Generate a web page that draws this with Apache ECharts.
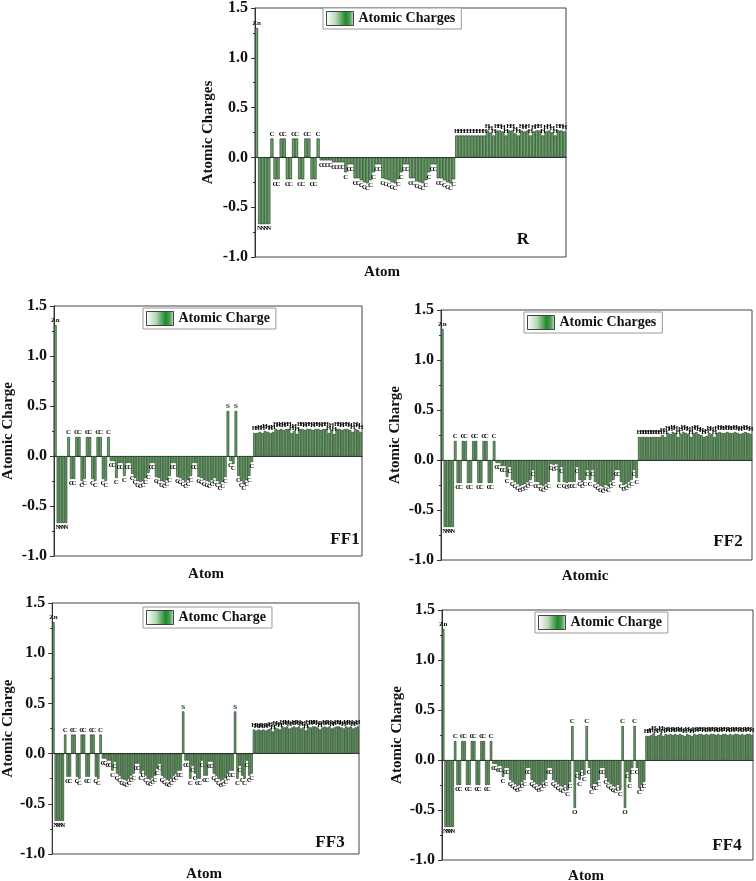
<!DOCTYPE html>
<html>
<head>
<meta charset="utf-8">
<script src="https://cdn.jsdelivr.net/npm/echarts@6/dist/echarts.min.js"></script>
<style>
  html, body { margin: 0; padding: 0; background: #fff; }
  #main { width: 756px; height: 881px; }
</style>
</head>
<body>
<div id="main"></div>
<script>
// ---- data ----
var valuesR = [
  1.30,
  -0.67, -0.67, -0.67, -0.67,
  0.19, -0.22, -0.22, 0.19, 0.19, -0.22, -0.22, 0.19, 0.19, -0.22, -0.22, 0.19, 0.19, -0.22, -0.22, 0.19,
  -0.03, -0.03, -0.03, -0.03, -0.05, -0.05, -0.05, -0.05,
  -0.15, -0.07, -0.07, -0.21, -0.21, -0.23, -0.25, -0.26, -0.23,
  -0.15, -0.07, -0.07, -0.21, -0.22, -0.23, -0.25, -0.26, -0.22,
  -0.15, -0.07, -0.07, -0.21, -0.21, -0.24, -0.25, -0.26, -0.23,
  -0.15, -0.07, -0.07, -0.21, -0.21, -0.23, -0.25, -0.26, -0.22,
  0.22, 0.22, 0.22, 0.22, 0.22, 0.22, 0.22, 0.22, 0.22, 0.22,
  0.27, 0.25, 0.22, 0.27, 0.27, 0.26, 0.22, 0.27, 0.27, 0.24,
  0.22, 0.27, 0.26, 0.27, 0.22, 0.26, 0.27, 0.27, 0.22, 0.26,
  0.27, 0.25, 0.22, 0.27, 0.27, 0.26
];
var atomsR = [['Zn', 1], ['N', 4], ['C', 60], ['H', 36]];

var valuesFF1 = [
  1.31,
  -0.67, -0.67, -0.67, -0.67,
  0.19, -0.23, -0.23, 0.19, 0.19, -0.25, -0.23, 0.19, 0.19, -0.23, -0.25, 0.19, 0.19, -0.23, -0.25, 0.19,
  -0.05, -0.05, -0.22, -0.07, -0.07, -0.20, -0.07, -0.07,
  -0.18, -0.22, -0.25, -0.26, -0.25, -0.22, -0.17,
  -0.07, -0.07,
  -0.21, -0.22, -0.25, -0.26, -0.24, -0.20,
  -0.07, -0.07,
  -0.21, -0.22, -0.24, -0.26, -0.24, -0.20,
  -0.07, -0.07,
  -0.21, -0.22, -0.24, -0.25, -0.26, -0.24, -0.22, -0.25, -0.28, -0.26, -0.21,
  0.45, -0.05, -0.08, 0.45,
  -0.20, -0.25, -0.28, -0.24, -0.20, -0.06,
  0.23, 0.23, 0.24, 0.23, 0.25, 0.24, 0.23, 0.24, 0.27, 0.26,
  0.27, 0.26, 0.27, 0.27, 0.23, 0.25, 0.22, 0.27, 0.27, 0.26,
  0.27, 0.27, 0.26, 0.27, 0.27, 0.26, 0.27, 0.27, 0.23, 0.26,
  0.22, 0.27, 0.27, 0.26, 0.27, 0.27, 0.26, 0.24, 0.27, 0.26,
  0.24
];
var atomsFF1 = [['Zn', 1], ['N', 4], ['C', 60], ['S', 1], ['C', 2], ['S', 1], ['C', 6], ['H', 41]];

var valuesFF2 = [
  1.31,
  -0.67, -0.67, -0.67, -0.67,
  0.19, -0.23, -0.23, 0.19, 0.19, -0.23, -0.23, 0.19, 0.19, -0.23, -0.23, 0.19, 0.19, -0.23, -0.23, 0.19,
  -0.03, -0.03, -0.06, -0.06, -0.17, -0.07,
  -0.20, -0.22, -0.24, -0.26, -0.25, -0.24, -0.22, -0.20,
  -0.10,
  -0.22, -0.22, -0.25, -0.26, -0.24, -0.22,
  -0.04, -0.05, -0.04, -0.22, -0.07,
  -0.22, -0.23, -0.22, -0.22, -0.22,
  -0.07, -0.20, -0.22, -0.20, -0.10, -0.20, -0.10,
  -0.22, -0.24, -0.26, -0.27, -0.25, -0.26, -0.22, -0.20,
  -0.10, -0.10,
  -0.22, -0.25, -0.24, -0.22, -0.20, -0.10, -0.18,
  0.23, 0.23, 0.23, 0.23, 0.23, 0.23, 0.23, 0.23, 0.23,
  0.25, 0.23, 0.27, 0.26, 0.28, 0.27, 0.23, 0.26, 0.28, 0.27,
  0.26, 0.23, 0.27, 0.28, 0.26, 0.25, 0.23, 0.24, 0.27, 0.26,
  0.23, 0.27, 0.28, 0.27, 0.27, 0.28, 0.27, 0.27, 0.28, 0.27,
  0.26, 0.27, 0.28, 0.27, 0.26
];
var atomsFF2 = [['Zn', 1], ['N', 4], ['C', 71], ['H', 44]];

var valuesFF3 = [
  1.31,
  -0.67, -0.67, -0.67, -0.67,
  0.19, -0.23, -0.23, 0.19, 0.19, -0.23, -0.25, 0.19, 0.19, -0.23, -0.23, 0.19, 0.19, -0.23, -0.25, 0.19,
  -0.05, -0.05, -0.07, -0.07, -0.17, -0.08,
  -0.20, -0.22, -0.25, -0.26, -0.27, -0.25, -0.22, -0.20,
  -0.10, -0.10, -0.20, -0.17,
  -0.22, -0.25, -0.26, -0.24, -0.22,
  -0.15, -0.10,
  -0.22, -0.24, -0.26, -0.27, -0.25, -0.22, -0.20,
  -0.17, -0.17,
  0.42,
  -0.07, -0.07, -0.25, -0.12, -0.20, -0.25, -0.25, -0.07, -0.22, -0.22,
  -0.08, -0.08, -0.20, -0.22, -0.25, -0.27, -0.26, -0.24, -0.20, -0.17, -0.17,
  0.42,
  -0.25, -0.12, -0.22, -0.25, -0.07, -0.22, -0.20,
  0.24, 0.23, 0.24, 0.23, 0.24, 0.23, 0.24, 0.25, 0.22, 0.26,
  0.25, 0.24, 0.27, 0.26, 0.27, 0.25, 0.26, 0.27, 0.26, 0.27,
  0.25, 0.26, 0.23, 0.27, 0.26, 0.27, 0.27, 0.26, 0.24, 0.26,
  0.27, 0.26, 0.27, 0.25, 0.26, 0.27, 0.27, 0.26, 0.25, 0.27,
  0.26, 0.27, 0.25, 0.26, 0.27
];
var atomsFF3 = [['Zn', 1], ['N', 4], ['C', 50], ['S', 1], ['C', 21], ['S', 1], ['C', 7], ['H', 45]];

var valuesFF4 = [
  1.31,
  -0.67, -0.67, -0.67, -0.67,
  0.19, -0.25, -0.25, 0.19, 0.19, -0.25, -0.25, 0.19, 0.19, -0.25, -0.25, 0.19, 0.19, -0.25, -0.25, 0.19,
  -0.04, -0.04, -0.06, -0.06, -0.17, -0.08, -0.08,
  -0.20, -0.22, -0.24, -0.26, -0.25, -0.22, -0.20,
  -0.08, -0.08, -0.20,
  -0.22, -0.24, -0.26, -0.25, -0.22, -0.20,
  -0.08, -0.08,
  -0.20, -0.22, -0.24, -0.26, -0.27, -0.25, -0.30, -0.22,
  0.34, -0.48,
  -0.12, -0.20, -0.10, -0.15,
  0.34,
  -0.08, -0.28, -0.24, -0.24, -0.20, -0.08, -0.08, -0.18, -0.22, -0.24, -0.26, -0.27, -0.25, -0.30,
  0.34, -0.48,
  -0.12, -0.22, -0.08,
  0.34,
  -0.08, -0.28, -0.25, -0.22,
  0.24, 0.24, 0.25, 0.27, 0.24, 0.25, 0.27, 0.24, 0.26, 0.25,
  0.26, 0.25, 0.26, 0.25, 0.26, 0.25, 0.24, 0.26, 0.25, 0.24,
  0.26, 0.25, 0.26, 0.26, 0.25, 0.26, 0.25, 0.26, 0.26, 0.25,
  0.26, 0.25, 0.26, 0.26, 0.25, 0.26, 0.25, 0.26, 0.26, 0.25,
  0.26, 0.25, 0.26, 0.26, 0.25
];
var atomsFF4 = [['Zn', 1], ['N', 4], ['C', 50], ['O', 1], ['C', 20], ['O', 1], ['C', 8], ['H', 45]];

var yTicks = [-1.0, -0.5, 0.0, 0.5, 1.0, 1.5];

// ---- layout ----
var serif = '"Liberation Serif", "Times New Roman", serif';
var panels = [
  { tag: 'R',   legend: 'Atomic Charges', yName: 'Atomic Charges', xName: 'Atom',   values: valuesR,   atoms: atomsR,
    grid: [255, 7, 311, 250],   lg: [323, 8],   tagPos: [523, 240], xNamePos: [382, 272], gap: 39 },
  { tag: 'FF1', legend: 'Atomic Charge',  yName: 'Atomic Charge',  xName: 'Atom',   values: valuesFF1, atoms: atomsFF1,
    grid: [53, 306, 309, 250],  lg: [143, 308], tagPos: [345, 540], xNamePos: [206, 574], gap: 38 },
  { tag: 'FF2', legend: 'Atomic Charges', yName: 'Atomic Charge',  xName: 'Atomic', values: valuesFF2, atoms: atomsFF2,
    grid: [441, 310, 311, 250], lg: [524, 312], tagPos: [728, 542], xNamePos: [585, 576], gap: 38 },
  { tag: 'FF3', legend: 'Atomc Charge',   yName: 'Atomic Charge',  xName: 'Atom',   values: valuesFF3, atoms: atomsFF3,
    grid: [47, 603, 312, 251],  lg: [143, 607], tagPos: [330, 843], xNamePos: [204, 874], gap: 36 },
  { tag: 'FF4', legend: 'Atomic Charge',  yName: 'Atomic Charge',  xName: 'Atom',   values: valuesFF4, atoms: atomsFF4,
    grid: [442, 610, 311, 250], lg: [535, 612], tagPos: [727, 846], xNamePos: [586, 876], gap: 37 }
];

function expand(runs) {
  var out = [];
  runs.forEach(function (r) { for (var k = 0; k < r[1]; k++) out.push(r[0]); });
  return out;
}

var legendIcon = new echarts.graphic.LinearGradient(0, 0, 1, 0, [
  { offset: 0, color: '#ffffff' },
  { offset: 0.35, color: '#b8d8b8' },
  { offset: 0.7, color: '#1f8a2a' },
  { offset: 0.85, color: '#4e9e55' },
  { offset: 1, color: '#d6e8d6' }
]);

var option = {
  animation: false,
  backgroundColor: '#fff',
  grid: [], xAxis: [], yAxis: [], series: [], legend: [], graphic: []
};

panels.forEach(function (p, i) {
  var labels = expand(p.atoms);
  if (labels.length !== p.values.length) console.log('length mismatch', p.tag, labels.length, p.values.length);
  option.grid.push({
    left: p.grid[0], top: p.grid[1], width: p.grid[2], height: p.grid[3],
    show: true, borderColor: '#444', borderWidth: 1, backgroundColor: '#fff'
  });
  option.xAxis.push({
    gridIndex: i, type: 'category',
    data: p.values.map(function (v, k) { return String(k + 1); }),
    axisLine: { onZero: true, lineStyle: { color: '#333', width: 1 } },
    axisTick: { show: false }, axisLabel: { show: false }, splitLine: { show: false }
  });
  option.yAxis.push({
    gridIndex: i, type: 'value', min: yTicks[0], max: yTicks[yTicks.length - 1], interval: 0.5,
    name: p.yName, nameLocation: 'middle', nameGap: p.gap,
    nameTextStyle: { fontFamily: serif, fontWeight: 'bold', fontSize: 15, color: '#111' },
    axisLine: { show: true, lineStyle: { color: '#333' } },
    axisTick: { show: true, length: 4, lineStyle: { color: '#333' } },
    minorTick: { show: true, splitNumber: 2, length: 2, lineStyle: { color: '#333' } },
    axisLabel: {
      fontFamily: serif, fontWeight: 'bold', fontSize: 16, color: '#111', margin: 7,
      formatter: function (v) { return v.toFixed(1); }
    },
    splitLine: { show: false }
  });
  option.series.push({
    type: 'bar', name: p.legend, xAxisIndex: i, yAxisIndex: i,
    barCategoryGap: '0%',
    itemStyle: { color: '#68a468', borderColor: '#1d331d', borderWidth: 0.6 },
    label: {
      show: true, distance: 1, fontFamily: serif, fontWeight: 'bold', fontSize: 7, color: '#111',
      formatter: function (q) { return labels[q.dataIndex]; }
    },
    data: p.values.map(function (v) {
      return { value: v, label: { position: v >= 0 ? 'top' : 'bottom' } };
    })
  });
  option.legend.push({
    left: p.lg[0], top: p.lg[1], selectedMode: false,
    padding: [3, 6, 3, 3], itemGap: 4, itemWidth: 27, itemHeight: 14,
    borderColor: '#999', borderWidth: 1, backgroundColor: '#fff',
    textStyle: { fontFamily: serif, fontWeight: 'bold', fontSize: 14, color: '#111' },
    data: [{ name: p.legend, icon: 'rect', itemStyle: { color: legendIcon, borderColor: '#444', borderWidth: 1 } }]
  });
  option.graphic.push({
    type: 'text', x: p.tagPos[0], y: p.tagPos[1],
    style: { text: p.tag, fontFamily: serif, fontWeight: 'bold', fontSize: 17, fill: '#111', align: 'center', verticalAlign: 'middle' }
  });
  option.graphic.push({
    type: 'text', x: p.xNamePos[0], y: p.xNamePos[1],
    style: { text: p.xName, fontFamily: serif, fontWeight: 'bold', fontSize: 15, fill: '#111', align: 'center', verticalAlign: 'middle' }
  });
});

var chart = echarts.init(document.getElementById('main'));
chart.setOption(option);
window.addEventListener('resize', function () { chart.resize(); });
</script>
</body>
</html>
